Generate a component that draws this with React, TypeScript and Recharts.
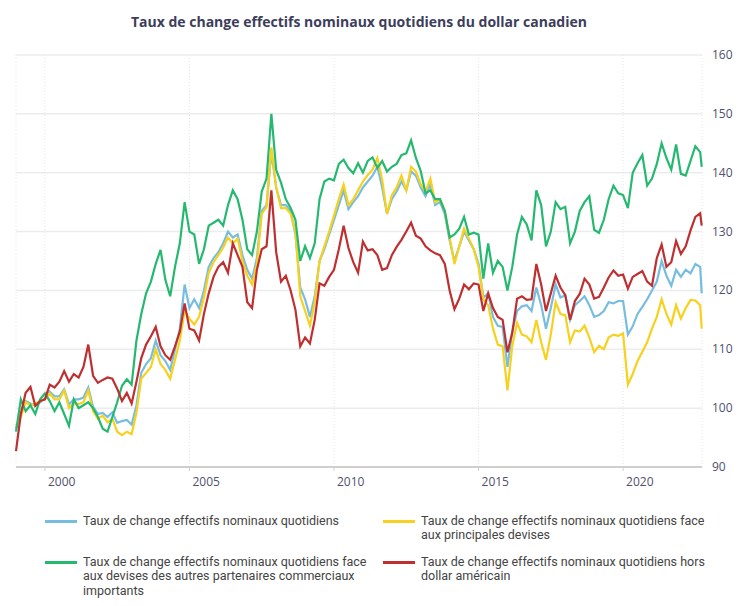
import { LineChart, Line, XAxis, YAxis, CartesianGrid } from 'recharts';

// x positions: one point every two months from Jan 1999, last point mid-Sept 2022
const dates = [...Array.from({ length: 143 }, (_, i) => 1999 + i / 6), 2022.72];

const yearTicks = [2000, 2005, 2010, 2015, 2020];
const valueTicks = [90, 100, 110, 120, 130, 140, 150, 160];

const global = [
  96.5, 99, 101.2, 100.8, 100.5, 101,
  101.6, 102.8, 102, 102, 103.2, 100.6,
  101.5, 101.5, 101.8, 103.5, 100.2, 99,
  99.2, 98.5, 99.3, 97.5, 97.8, 98,
  97.2, 100.5, 106, 107.5, 108.5, 111.5,
  109, 108, 106.5, 110, 113.5, 121,
  117, 118.5, 117, 120, 124, 125.5,
  126.5, 128, 130, 129, 129.5, 126,
  123.5, 122, 125.5, 133.5, 134.5, 143.5,
  137.5, 134.5, 134.5, 133.5, 129.5, 120.5,
  118.5, 115.5, 119, 125, 127, 129.5,
  132, 134.5, 137, 133.8, 135, 136,
  137.5, 138.5, 139.5, 141, 137.5, 133,
  135.5, 136.8, 138.5, 137, 140.2, 139.5,
  137.5, 136, 138, 134.5, 135, 133,
  128.5, 125, 127.5, 130, 128.5, 127,
  124.5, 118.8, 119.5, 115.5, 114, 113.8,
  107, 113, 116.5, 117.3, 117.5, 116.5,
  120.5, 117.5, 113.5, 117, 121, 118.8,
  119.2, 115, 117.5, 118.2, 119, 117.5,
  115.5, 115.8, 116.5, 118, 117.8, 118.2,
  118.2, 112.5, 113.9, 116, 117.2, 118.5,
  120, 121.5, 125, 122.5, 120.8, 123.5,
  122.3, 123.5, 122.9, 124.5, 124, 119.5,
];

const majors = [
  97, 98.5, 101, 100.5, 100.8, 101.2,
  101.5, 102.5, 101.5, 101.5, 103, 100,
  100.8, 100.7, 101, 103, 99.5, 98.2,
  98.7, 97.6, 98.2, 96, 95.4, 96,
  95.6, 99.2, 105, 106, 107, 110,
  107.5, 106.5, 105, 108.2, 111.5, 116.5,
  115.2, 114.2, 115.5, 118.8, 123, 124.8,
  126, 127.3, 129, 128, 128.8, 125,
  122.5, 121, 124.5, 133, 134.2, 144.3,
  137.5, 134, 134, 133, 130, 119,
  116.5, 114, 118, 125, 127.5, 130,
  132.7, 135.5, 138, 134.5, 135.5, 137,
  138.5, 139.6, 140.5, 142.5, 138.8, 133,
  136.2, 137.5, 139.5, 137, 141, 140.2,
  138, 136.8, 139, 135, 135.5, 133.5,
  129, 124.5, 127.5, 130.5, 128.8, 127,
  124, 118.5, 117.5, 113.5, 110.8, 110.5,
  103, 110.5, 114.5, 112.5, 112.2, 111.2,
  115, 111.2, 108.2, 112.5, 118, 116,
  115.8, 111.2, 113.2, 113, 114, 112,
  109.5, 110.6, 110, 112, 112.5, 112.3,
  112.7, 104, 105.8, 108, 109.6, 111.2,
  113.5, 115.5, 118.5, 116, 114.2, 117.5,
  115.2, 117, 118.4, 118.3, 117.5, 113.5,
];

const otherPartners = [
  96, 101.5, 99.5, 100.5, 99, 101.5,
  102.5, 101.2, 99.5, 101, 99, 97,
  101.5, 100, 100.5, 101, 100, 98.5,
  96.5, 96, 98.5, 101, 103.8, 104.9,
  104, 111.5, 116, 119.5, 121.5, 124.5,
  126.9, 121.8, 119, 124, 128, 135,
  130, 129.5, 124.5, 127, 131, 131.5,
  132, 131, 134.5, 137, 135.5, 132,
  127, 126, 130, 136.8, 139, 150,
  140.5, 138.3, 135.5, 134, 132, 125,
  127.5, 125.5, 128, 135.5, 138.5, 139,
  138.7, 141.5, 142.2, 140.8, 139.9, 141.6,
  140, 142, 142.6, 140.8, 142, 140.2,
  141, 141.5, 143, 143.3, 145.5, 142.5,
  140.3, 136.5, 137, 135.5, 135.5, 133.5,
  129, 129.5, 130.5, 132.5, 129.5, 129.8,
  129.5, 122, 128, 123, 125, 124,
  120, 124, 129.5, 132.5, 131.2, 128.5,
  137, 134.5, 127.5, 130, 135, 133.8,
  134.2, 128, 130, 133.5, 135, 136,
  130.3, 129.8, 132, 135.5, 137.8, 136.5,
  136.2, 134, 140, 141.6, 143, 137.8,
  139, 141.5, 145, 142.5, 140.5, 144.8,
  139.8, 139.5, 142, 144.5, 143.5, 141,
];

const exUsd = [
  92.7, 99, 102.6, 103.6, 100.4, 101.2,
  101.5, 104, 103.5, 104.5, 106.3, 104.5,
  105.8, 105.2, 107, 110.8, 105.5, 104.3,
  104.8, 105.2, 105, 103.3, 101.2, 102.6,
  100.8, 104.5, 108.5, 110.8, 112.2, 113.8,
  110.5, 109, 108.2, 110.5, 113, 117.8,
  113.5, 113.2, 111.5, 116, 119.5, 122.3,
  124, 124.8, 123, 128, 126, 124,
  118, 117, 123.5, 127, 127.5, 137,
  126.5, 121.5, 122.5, 120, 116.7, 110.5,
  112, 111, 115, 121.2, 120.8, 122.3,
  123.5, 127, 131, 127.2, 124.8, 123,
  128.3, 126.8, 127, 126, 123.5, 123.8,
  126, 127.4, 128.6, 130, 131.5, 129.3,
  128.8, 127.5, 126.8, 126.3, 126, 124.5,
  120, 116.8, 118.6, 121, 120.2, 121.2,
  121, 116.5, 119.5, 117, 115.5, 115,
  109.5, 112.8, 118.6, 119, 118.4, 118.5,
  124.5, 121, 116.5, 119.5, 122.5, 120.5,
  119.2, 115, 118.2, 119.4, 122, 121,
  118.6, 118.9, 120.5, 122.2, 123.4, 122.5,
  122.7, 120.3, 122.3, 122.8, 123.3, 121.5,
  120.8, 125.5, 127.8, 124, 124.8, 128.4,
  126.2, 127.5, 130.2, 132.5, 133.1, 131,
];

const series = [
  { key: 'global', color: '#77bde0', lines: ['Taux de change effectifs nominaux quotidiens'] },
  {
    key: 'majors',
    color: '#f7d11e',
    lines: ['Taux de change effectifs nominaux quotidiens face', 'aux principales devises'],
  },
  {
    key: 'otherPartners',
    color: '#25b970',
    lines: [
      'Taux de change effectifs nominaux quotidiens face',
      'aux devises des autres partenaires commerciaux',
      'importants',
    ],
  },
  {
    key: 'exUsd',
    color: '#bf2f30',
    lines: ['Taux de change effectifs nominaux quotidiens hors', 'dollar américain'],
  },
];

const data = dates.map((t, i) => ({
  t,
  global: global[i],
  majors: majors[i],
  otherPartners: otherPartners[i],
  exUsd: exUsd[i],
}));

const FONT = '"Open Sans", sans-serif';
const LEGEND_FONT = 'Roboto, sans-serif';
const TICK_COLOR = '#50506e';

function YearTick({ x, payload }: any) {
  return (
    <text x={x + 3} y={486} textAnchor="start" fontSize={12} fontFamily={FONT} fill={TICK_COLOR}>
      {payload.value}
    </text>
  );
}

function ValueTick({ y, payload }: any) {
  return (
    <text x={712} y={y + 4} textAnchor="start" fontSize={12} fontFamily={FONT} fill={TICK_COLOR}>
      {payload.value}
    </text>
  );
}

// legend slots: [sample left, text left, row top]
const legendPos = [
  [45, 83, 514],
  [383, 421, 514],
  [45, 83, 555],
  [383, 421, 555],
];

export default function App() {
  return (
    <div style={{ position: 'absolute', left: 0, top: 0, width: 750, height: 606, background: '#fff', fontFamily: FONT }}>
      <div
        style={{
          position: 'absolute',
          left: 0,
          width: 718,
          top: 12,
          lineHeight: '20px',
          textAlign: 'center',
          fontSize: 14,
          fontWeight: 700,
          color: '#3d3d5c',
        }}
      >
        Taux de change effectifs nominaux quotidiens du dollar canadien
      </div>
      <LineChart width={750} height={606} data={data} margin={{ top: 55, right: 0, bottom: 109, left: 16 }}>
        <CartesianGrid horizontal vertical={false} stroke="#ececec" strokeWidth={1.5} />
        <CartesianGrid horizontal={false} vertical stroke="#e6e6e6" strokeDasharray="1 2" />
        <XAxis
          dataKey="t"
          type="number"
          domain={[1999, 2022.73]}
          ticks={yearTicks}
          height={30}
          axisLine={{ stroke: '#cfcfcf', strokeWidth: 2 }}
          tickLine={{ stroke: '#cfcfcf' }}
          tickSize={4}
          tick={<YearTick />}
          interval={0}
        />
        <YAxis
          orientation="right"
          width={48}
          domain={[90, 160]}
          ticks={valueTicks}
          axisLine={false}
          tickLine={false}
          tick={<ValueTick />}
          interval={0}
        />
        {series.map((s) => (
          <Line
            key={s.key}
            dataKey={s.key}
            type="linear"
            stroke={s.color}
            strokeWidth={2.2}
            dot={false}
            isAnimationActive={false}
          />
        ))}
      </LineChart>
      {series.map((s, i) => {
        const [sx, tx, top] = legendPos[i];
        return (
          <div key={s.key}>
            <div style={{ position: 'absolute', left: sx, top: top + 6, width: 32, height: 3, background: s.color }} />
            <div
              style={{
                position: 'absolute',
                left: tx,
                top: top - 0.5,
                fontFamily: LEGEND_FONT,
                fontSize: 12.5,
                lineHeight: '14.8px',
                color: '#444',
                whiteSpace: 'nowrap',
              }}
            >
              {s.lines.map((l, j) => (
                <span key={l}>
                  {j > 0 && <br />}
                  {l}
                </span>
              ))}
            </div>
          </div>
        );
      })}
    </div>
  );
}
